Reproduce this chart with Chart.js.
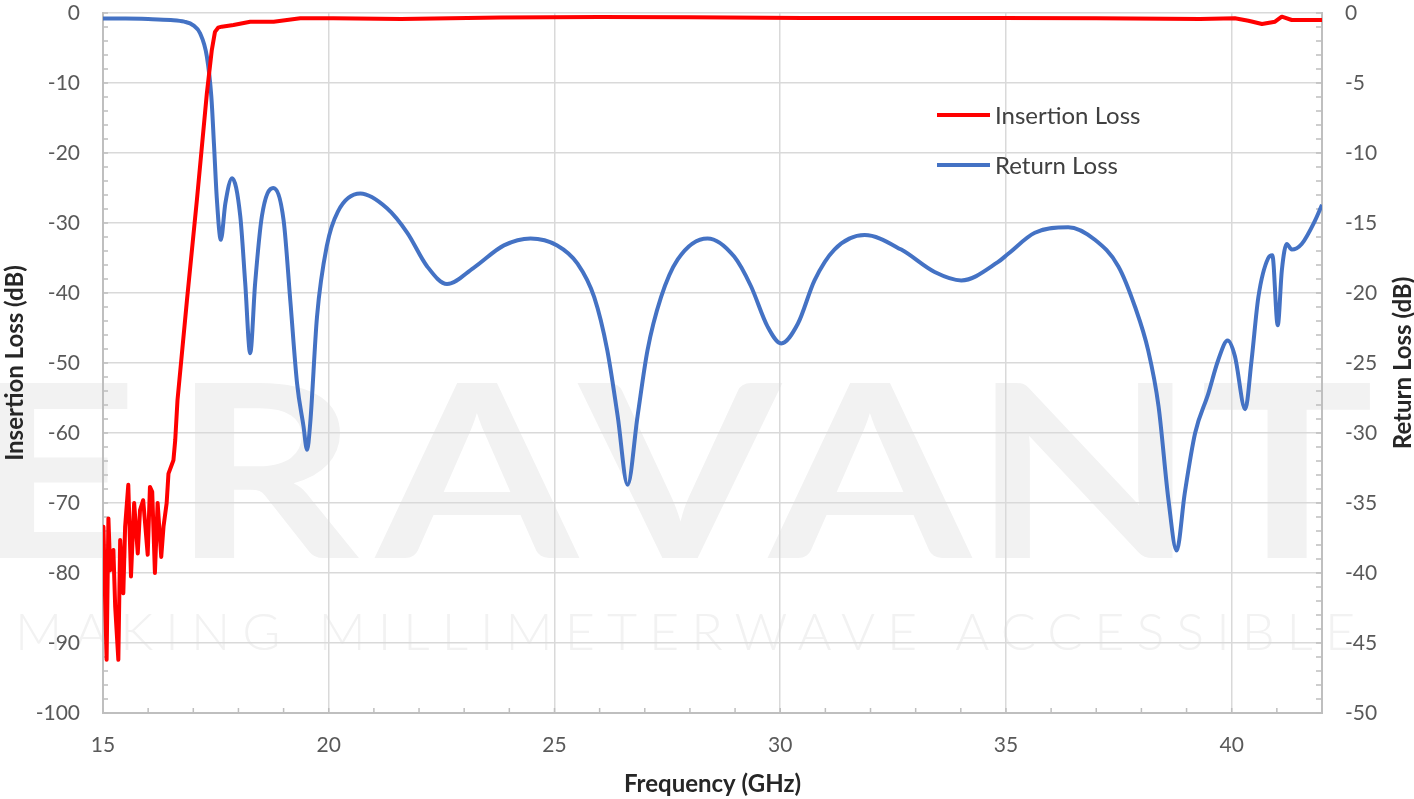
<!DOCTYPE html>
<html>
<head>
<meta charset="utf-8">
<script src="https://cdn.jsdelivr.net/npm/chart.js@4.4.1/dist/chart.umd.min.js"></script>
<style>
    html, body { margin: 0; padding: 0; background: #fff; }
    canvas { display: block; }
</style>
</head>
<body>
<canvas id="filterChart" width="1414" height="799"></canvas>
<script>
// Insertion loss (left axis, dB)
const ilFreq = [15.00, 15.01, 15.04, 15.08, 15.12, 15.16, 15.23, 15.27, 15.34, 15.38, 15.45, 15.49, 15.56, 15.62,
    15.69, 15.77, 15.82, 15.89, 15.99, 16.04, 16.09, 16.15, 16.21, 16.29, 16.34, 16.41, 16.45, 16.56, 16.60, 16.65,
    16.86, 17.08, 17.30, 17.41, 17.48, 17.55, 17.63, 17.89, 18.26, 18.78, 19.37, 20.1, 21.6, 23.8, 26.0, 28.0,
    30.5, 32.5, 34.9, 37.0, 39.3, 40.07, 40.37, 40.67, 40.96, 41.11, 41.33, 42.0];
const ilDb = [-81, -73.4, -82.0, -92.4, -72.2, -79.6, -76.7, -84.8, -92.4, -75.3, -82.9, -73.4, -67.4, -80.5,
    -70.0, -77.2, -71.0, -69.6, -77.4, -67.7, -68.4, -80.0, -70.0, -77.7, -73.4, -70.0, -65.8, -63.9, -61.0, -55.3,
    -41.0, -26.7, -11.5, -5.3, -2.7, -2.1, -1.95, -1.71, -1.24, -1.24, -0.76, -0.76, -0.86, -0.64, -0.57, -0.6,
    -0.71, -0.7, -0.71, -0.75, -0.86, -0.76, -1.1, -1.57, -1.24, -0.52, -1.0, -1.0];

// Return loss (right axis, dB)
const rlFreq = [15.0, 15.5, 16.0, 16.5, 16.8, 17.0, 17.15, 17.3, 17.4, 17.46, 17.52, 17.61, 17.71, 17.86, 18.04,
    18.15, 18.26, 18.37, 18.52, 18.77, 19.0, 19.15, 19.30, 19.44, 19.52, 19.59, 19.74, 19.96, 20.2, 20.70, 21.29,
    21.74, 22.18, 22.62, 23.21, 23.88, 24.47, 25.06, 25.51, 25.88, 26.17, 26.40, 26.62, 26.84, 27.06, 27.36, 27.73,
    28.39, 28.98, 29.35, 29.72, 30.02, 30.39, 30.76, 31.20, 31.87, 32.68, 33.42, 34.01, 34.82, 35.05, 35.64, 36.38,
    36.97, 37.49, 37.86, 38.15, 38.38, 38.60, 38.78, 38.96, 39.19, 39.48, 39.70, 39.91, 40.07, 40.30, 40.44, 40.59,
    40.81, 40.90, 41.02, 41.11, 41.22, 41.33, 41.55, 41.85, 42.0];
const rlDb = [-0.40, -0.40, -0.43, -0.50, -0.62, -0.88, -1.45, -3.1, -6.0, -9.5, -13.2, -16.2, -13.6, -11.8, -14.5,
    -19.3, -24.3, -19.3, -14.5, -12.5, -14.8, -20.6, -26.5, -29.5, -31.2, -29.3, -21.7, -16.6, -14.2, -12.9, -13.95,
    -15.7, -18.1, -19.36, -18.2, -16.6, -16.1, -16.6, -17.9, -20.3, -24.1, -28.8, -33.7, -28.8, -24.1, -20.3, -17.6,
    -16.1, -17.4, -19.5, -22.4, -23.6, -22.2, -19.1, -16.9, -15.86, -16.9, -18.5, -19.1, -17.8, -17.2, -15.7, -15.3,
    -16.2, -18.1, -21.0, -24.1, -28.1, -34.8, -38.4, -34.3, -30.0, -27.2, -24.8, -23.4, -24.5, -28.3, -24.8, -20.3,
    -17.5, -17.3, -22.3, -18.4, -16.5, -16.9, -16.5, -14.8, -13.7];

const xTicks = [15, 20, 25, 30, 35, 40];
const seriesLabels = ['Insertion Loss', 'Return Loss'];
const seriesColors = ['#ff0000', '#4472c4'];

const FONT = 'Lato, "Open Sans", sans-serif';
const gridColor = '#d9d9d9';
const axisColor = '#bfbfbf';

// marca d'agua ao fundo
const watermark = {
    id: 'watermark',
    beforeDraw(chart) {
        const ctx = chart.ctx;
        ctx.save();
        ctx.fillStyle = '#f2f2f2';
        ctx.textAlign = 'center';
        ctx.textBaseline = 'alphabetic';
        ctx.font = '700 242px ' + FONT;
        const letters = ['E', 'R', 'A', 'V', 'A', 'N', 'T'];
        const centers = [55, 265, 477, 680, 870, 1084, 1287];
        letters.forEach((l, i) => {
            ctx.save();
            ctx.translate(centers[i], 558);
            ctx.scale(1.2, 1);
            ctx.fillText(l, 0, 0);
            ctx.restore();
        });

        ctx.font = '300 52px ' + FONT;
        ctx.textAlign = 'left';
        const sub = 'MAKING MILLIMETERWAVE ACCESSIBLE';
        const w = ctx.measureText(sub).width;
        ctx.letterSpacing = ((1340 - w) / (sub.length - 1)).toFixed(2) + 'px';
        ctx.fillText(sub, 15, 650);
        ctx.restore();
    }
};

// pequenos tracos de escala
const minorTicks = {
    id: 'minorTicks',
    beforeDatasetsDraw(chart) {
        const { ctx, chartArea, scales } = chart;
        ctx.save();
        ctx.strokeStyle = axisColor;
        ctx.lineWidth = 1.5;
        ctx.beginPath();
        for (let v = 15; v <= 42; v++) {
            const x = scales.x.getPixelForValue(v);
            ctx.moveTo(x, chartArea.bottom);
            ctx.lineTo(x, chartArea.bottom - 5);
        }
        for (let v = -100; v <= 0; v += 2) {
            const y = scales.y.getPixelForValue(v);
            ctx.moveTo(chartArea.left, y);
            ctx.lineTo(chartArea.left + 5, y);
        }
        for (let v = -50; v <= 0; v += 1) {
            const y = scales.y2.getPixelForValue(v);
            ctx.moveTo(chartArea.right, y);
            ctx.lineTo(chartArea.right - 6, y);
        }
        ctx.stroke();
        ctx.restore();
    }
};

// legenda dentro do grafico + titulo do eixo direito
const overlay = {
    id: 'overlay',
    afterDraw(chart) {
        const ctx = chart.ctx;
        ctx.save();
        ctx.font = '24px ' + FONT;
        ctx.textBaseline = 'middle';
        ctx.textAlign = 'left';
        chart.data.datasets.forEach((ds, i) => {
            const y = 115 + i * 50;
            ctx.strokeStyle = ds.borderColor;
            ctx.lineWidth = 4;
            ctx.beginPath();
            ctx.moveTo(937, y);
            ctx.lineTo(990, y);
            ctx.stroke();
            ctx.fillStyle = '#404040';
            ctx.fillText(ds.label, 995, y + 1);
        });

        ctx.translate(1403, chart.chartArea.top + chart.chartArea.height / 2);
        ctx.rotate(-Math.PI / 2);
        ctx.textAlign = 'center';
        ctx.font = 'bold 24px ' + FONT;
        ctx.fillStyle = '#262626';
        ctx.fillText('Return Loss (dB)', 0, 0);
        ctx.restore();
    }
};

function fixVertical(width) {
    return function(scale) {
        scale.width = width;
        scale.paddingTop = 0;
        scale.paddingBottom = 0;
    };
}

const ctx = document.getElementById('filterChart');
new Chart(ctx, {
    type: 'line',
    data: {
        datasets: [
            {
                label: seriesLabels[0],
                data: ilFreq.map((f, i) => ({ x: f, y: ilDb[i] })),
                yAxisID: 'y',
                borderColor: seriesColors[0],
                borderWidth: 4,
                pointRadius: 0,
                tension: 0,
                borderJoinStyle: 'round',
                fill: false
            },
            {
                label: seriesLabels[1],
                data: rlFreq.map((f, i) => ({ x: f, y: rlDb[i] })),
                yAxisID: 'y2',
                borderColor: seriesColors[1],
                borderWidth: 4,
                pointRadius: 0,
                cubicInterpolationMode: 'monotone',
                borderJoinStyle: 'round',
                fill: false
            }
        ]
    },
    options: {
        responsive: false,
        animation: false,
        layout: { padding: { top: 13 } },
        plugins: {
            legend: { display: false },
            tooltip: { enabled: false }
        },
        scales: {
            x: {
                type: 'linear',
                position: 'bottom',
                min: 15,
                max: 42,
                afterBuildTicks: scale => { scale.ticks = xTicks.map(v => ({ value: v })); },
                afterFit: scale => { scale.height = 86; },
                grid: { color: gridColor, lineWidth: 1.5, drawTicks: false },
                border: { color: axisColor, width: 2 },
                ticks: { padding: 20, color: '#595959', font: { family: FONT, size: 21 } },
                title: {
                    display: true,
                    text: 'Frequency (GHz)',
                    color: '#262626',
                    font: { family: FONT, size: 24, weight: 'bold' },
                    padding: { top: 2, bottom: 0 }
                }
            },
            y: {
                position: 'left',
                min: -100,
                max: 0,
                afterFit: fixVertical(103),
                grid: { color: gridColor, lineWidth: 1.5, drawTicks: false },
                border: { color: axisColor, width: 2 },
                ticks: { stepSize: 10, padding: 23, color: '#595959', font: { family: FONT, size: 21 } },
                title: {
                    display: true,
                    text: 'Insertion Loss (dB)',
                    color: '#262626',
                    font: { family: FONT, size: 24, weight: 'bold' },
                    padding: { top: 1, bottom: 0 }
                }
            },
            y2: {
                position: 'right',
                min: -50,
                max: 0,
                afterFit: fixVertical(92),
                grid: { drawOnChartArea: false, drawTicks: false },
                border: { color: axisColor, width: 2 },
                ticks: { stepSize: 5, padding: 23, color: '#595959', font: { family: FONT, size: 21 } }
            }
        }
    },
    plugins: [watermark, minorTicks, overlay]
});
</script>
</body>
</html>
